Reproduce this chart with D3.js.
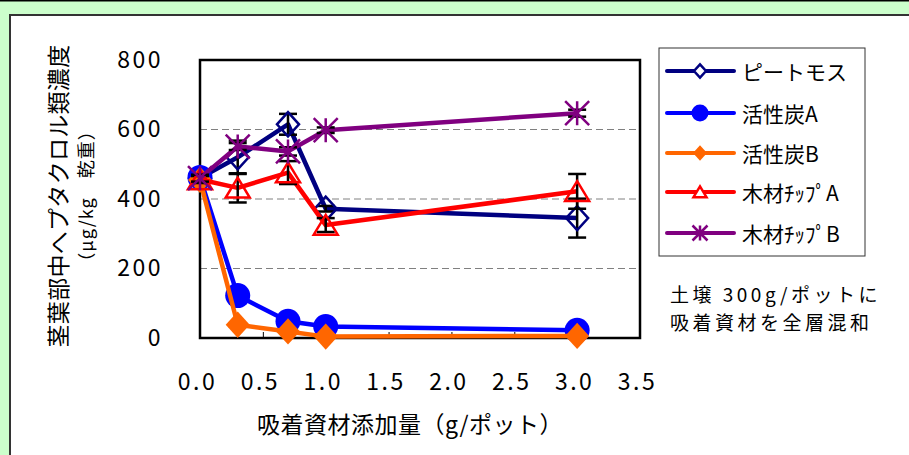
<!DOCTYPE html>
<html><head><meta charset="utf-8">
<script src="https://cdn.jsdelivr.net/npm/d3@7"></script>
<style>
html,body{margin:0;padding:0;background:#ccffcc;}
svg{display:block;font-family:"Noto Sans CJK JP","Noto Sans",sans-serif;}
</style></head>
<body>
<svg id="c" width="909" height="455"></svg>
<script>
const xValues = [0, 0.3, 0.7, 1.0, 3.0];
const seriesNames = ["ピートモス", "活性炭A", "活性炭B", "木材ﾁｯﾌﾟA", "木材ﾁｯﾌﾟB"];
const peatMoss = [460, 520, 615, 372, 345];
const carbonA = [462, 122, 48, 33, 22];
const carbonB = [455, 38, 19, 4, 6];
const woodA = [456, 432, 476, 325, 422];
const woodB = [460, 551, 537, 598, 647];
const errPeat = [8, 48, 30, 8, 56];
const errCarbonA = [6, 5, 4, 3, 3];
const errCarbonB = [5, 4, 3, 2, 2];
const errWoodA = [10, 42, 33, 20, 50];
const errWoodB = [10, 10, 12, 8, 10];
const yTicks = [0, 200, 400, 600, 800];
const xTicks = [0, 0.5, 1.0, 1.5, 2.0, 2.5, 3.0, 3.5];
const yTitle1 = "茎葉部中へプタクロル類濃度";
const yTitle2 = "（μg/kg　乾重）";
const xTitle = "吸着資材添加量（g/ポット）";
const noteLines = ["土壌 300g/ポットに", "吸着資材を全層混和"];

const colors = ["#000080", "#0000ff", "#ff6600", "#ff0000", "#800080"];
const markers = ["diamondOpen", "circle", "diamondFilled", "triangleOpen", "asterisk"];
const values = [peatMoss, carbonA, carbonB, woodA, woodB];
const errors = [errPeat, errCarbonA, errCarbonB, errWoodA, errWoodB];

const svg = d3.select("#c");
// background panel
svg.append("rect").attr("x",0).attr("y",0).attr("width",909).attr("height",455).attr("fill","#ccffcc");
svg.append("rect").attr("x",0).attr("y",0).attr("width",909).attr("height",1.5).attr("fill","#000");
svg.append("rect").attr("x",10).attr("y",15).attr("width",905).attr("height",450)
  .attr("fill","#fff").attr("stroke","#333").attr("stroke-width",2);

const L=200, R=640, T=60, B=338;
const x = d3.scaleLinear().domain([0,3.5]).range([L,R]);
const y = d3.scaleLinear().domain([0,800]).range([B,T]);

// gridlines
svg.append("g").selectAll("line").data(yTicks.filter(d=>d>0&&d<800)).join("line")
  .attr("x1",L).attr("x2",R).attr("y1",d=>y(d)).attr("y2",d=>y(d))
  .attr("stroke","#808080").attr("stroke-width",1).attr("stroke-dasharray","7,4");

// x axis
const xAxis = svg.append("g").attr("transform",`translate(0,${B})`)
  .call(d3.axisBottom(x).tickValues(xTicks).tickFormat(d3.format(".1f")).tickSize(-6).tickPadding(36));
xAxis.select(".domain").remove();
xAxis.selectAll(".tick line").attr("stroke","#000").attr("stroke-width",1);
xAxis.selectAll(".tick text").attr("font-size",23).attr("fill","#000")
  .attr("font-family","'Noto Sans CJK JP',sans-serif").attr("letter-spacing","2.5px").attr("dx",-3);

// y axis labels
const yAxis = svg.append("g").attr("transform",`translate(${L},0)`)
  .call(d3.axisLeft(y).tickValues(yTicks).tickFormat(d3.format("d")).tickSize(0).tickPadding(37));
yAxis.select(".domain").remove();
yAxis.selectAll(".tick text").attr("font-size",23).attr("fill","#000")
  .attr("font-family","'Noto Sans CJK JP',sans-serif").attr("letter-spacing","2.5px");

// plot border
svg.append("rect").attr("x",L).attr("y",T).attr("width",R-L).attr("height",B-T)
  .attr("fill","none").attr("stroke","#000").attr("stroke-width",2.5);

function markerPath(type, s){
  const h=s/2;
  switch(type){
    case "diamondOpen": case "diamondFilled":
      return `M0,${-h*1.1}L${h},0L0,${h*1.1}L${-h},0Z`;
    case "triangleOpen":
      return `M0,${-h*0.85}L${h},${h*0.8}L${-h},${h*0.8}Z`;
    case "asterisk":
      return `M0,${-h}L0,${h}M${-h},${-h}L${h},${h}M${-h},${h}L${h},${-h}`;
  }
  return "";
}
function drawMarker(g, type, color, cx, cy, s, fillOpen){
  if(type==="circle"){
    g.append("circle").attr("cx",cx).attr("cy",cy).attr("r",s/2).attr("fill",color);
    return;
  }
  const p = g.append("path").attr("d",markerPath(type,s)).attr("transform",`translate(${cx},${cy})`);
  if(type==="diamondFilled") p.attr("fill",color);
  else if(type==="asterisk") p.attr("fill","none").attr("stroke",color).attr("stroke-width",2.5);
  else p.attr("fill",fillOpen||"none").attr("stroke",color).attr("stroke-width",2.5);
}

const line = d3.line().x(d=>x(d[0])).y(d=>y(d[1]));
const sizes = [22, 25, 24, 24, 24];
values.forEach((vals,i)=>{
  const g = svg.append("g");
  const pts = xValues.map((xv,j)=>[xv, vals[j]]);
  g.append("path").attr("d",line(pts)).attr("fill","none").attr("stroke",colors[i])
    .attr("stroke-width",4.5).attr("stroke-linejoin","round");
  const eg = g.append("g").attr("stroke","#000").attr("stroke-width",2.5);
  pts.forEach((p,j)=>{
    const e = errors[i][j], cx = x(p[0]);
    const y1 = y(p[1]+e), y2 = y(Math.max(0,p[1]-e));
    eg.append("line").attr("x1",cx).attr("x2",cx).attr("y1",y1).attr("y2",y2);
    eg.append("line").attr("x1",cx-9).attr("x2",cx+9).attr("y1",y1).attr("y2",y1);
    eg.append("line").attr("x1",cx-9).attr("x2",cx+9).attr("y1",y2).attr("y2",y2);
  });
  pts.forEach(p=>drawMarker(g, markers[i], colors[i], x(p[0]), y(p[1]), sizes[i]));
});

// axis titles
svg.append("text").attr("transform","translate(57,196) rotate(-90)").attr("text-anchor","middle")
  .attr("dominant-baseline","central").attr("font-size",23).attr("letter-spacing","0.3px").text(yTitle1);
svg.append("text").attr("transform","translate(85,196) rotate(-90)").attr("text-anchor","middle")
  .attr("dominant-baseline","central").attr("font-size",18).attr("letter-spacing","1px").text(yTitle2);
svg.append("text").attr("x",410).attr("y",423).attr("text-anchor","middle")
  .attr("dominant-baseline","central").attr("font-size",23).attr("letter-spacing","0.5px").text(xTitle);

// legend
const lg = svg.append("g");
lg.append("rect").attr("x",659).attr("y",48).attr("width",206).attr("height",208)
  .attr("fill","#fff").attr("stroke","#333").attr("stroke-width",1);
const legY = [71, 113, 153, 192, 233];
const legSizes = [12, 17, 14, 13, 15];
seriesNames.forEach((name,i)=>{
  const yy = legY[i];
  lg.append("line").attr("x1",667).attr("x2",734).attr("y1",yy).attr("y2",yy)
    .attr("stroke",colors[i]).attr("stroke-width",4).attr("stroke-linecap","round");
  drawMarker(lg, markers[i], colors[i], 700, yy, legSizes[i], "#fff");
  lg.append("text").attr("x",742).attr("y",yy).attr("dominant-baseline","central")
    .attr("font-size",21).attr("fill","#000").text(name);
});

// note
noteLines.forEach((t,i)=>{
  svg.append("text").attr("x",670).attr("y",293+i*28).attr("dominant-baseline","central")
    .attr("font-size",19).attr("letter-spacing","3.5px").attr("fill","#000").text(t);
});
</script>
</body></html>
